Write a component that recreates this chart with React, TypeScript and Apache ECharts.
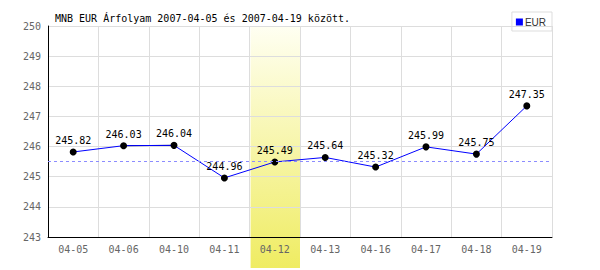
import React, { useEffect, useRef } from "react";
import * as echarts from "echarts";

const categories = ["04-05", "04-06", "04-10", "04-11", "04-12", "04-13", "04-16", "04-17", "04-18", "04-19"];
const eurValues = [245.82, 246.03, 246.04, 244.96, 245.49, 245.64, 245.32, 245.99, 245.75, 247.35];
const blackSegment = [null, 246.03, 246.04, null, null, null, null, null, null, null];
const referenceLevel = 245.5;
const highlightedCategory = "04-12";
const yMin = 243;
const yMax = 250;

const mono = "DejaVu Sans Mono";

export default function App() {
  const ref = useRef<HTMLDivElement>(null);
  useEffect(() => {
    if (!ref.current) return;
    const chart = echarts.init(ref.current, null, { renderer: "svg" });
    const option: any = {
      animation: false,
      backgroundColor: "#fff",
      title: {
        text: "MNB EUR Árfolyam 2007-04-05 és 2007-04-19 között.",
        left: 50,
        top: 8,
        textStyle: { fontFamily: mono, fontSize: 10, fontWeight: "normal", color: "#000" },
      },
      legend: {
        right: 48,
        top: 12,
        orient: "vertical",
        data: [{ name: "EUR", icon: "rect" }],
        itemWidth: 7,
        itemHeight: 7,
        itemGap: 3,
        padding: [5, 6, 4, 4],
        borderColor: "#ddd",
        borderWidth: 1,
        textStyle: { fontFamily: "Liberation Sans", fontSize: 10, color: "#333", padding: [0, 0, 0, -3] },
      },
      grid: { left: 48, right: 48, top: 26, bottom: 33, containLabel: false },
      xAxis: {
        type: "category",
        data: categories,
        boundaryGap: true,
        axisLine: { lineStyle: { color: "#000", width: 1 } },
        axisTick: { show: false },
        axisLabel: { fontFamily: mono, fontSize: 10, color: "#666", margin: 7 },
        splitLine: { show: true, lineStyle: { color: "#ddd", width: 1 } },
      },
      yAxis: {
        type: "value",
        min: yMin,
        max: yMax,
        interval: 1,
        axisLine: { show: true, lineStyle: { color: "#000", width: 1 } },
        axisTick: { show: false },
        axisLabel: { fontFamily: mono, fontSize: 10, color: "#666", margin: 7 },
        splitLine: { show: true, lineStyle: { color: "#ddd", width: 1 } },
      },
      series: [
        {
          name: "EUR",
          type: "line",
          data: eurValues,
          z: 3,
          symbol: "circle",
          symbolSize: 7,
          itemStyle: { color: "#0000ff", borderWidth: 0 },
          lineStyle: { color: "#0000ff", width: 1 },
          label: {
            show: true,
            position: "top",
            distance: 3,
            fontFamily: mono,
            fontSize: 10,
            color: "#000",
          },
          markLine: {
            silent: true,
            symbol: "none",
            label: { show: false },
            lineStyle: { color: "#8c8cff", type: [3, 3], width: 1 },
            data: [{ yAxis: referenceLevel }],
          },
        },
        {
          name: "segment",
          type: "line",
          data: blackSegment,
          z: 2,
          showSymbol: false,
          lineStyle: { color: "#000", width: 1 },
          connectNulls: false,
        },
      ],
    };
    chart.setOption(option);
    // symbols black, legend blue: apply symbol colour via data items
    chart.setOption({
      series: [
        {
          name: "EUR",
          data: eurValues.map((v) => ({ value: v, itemStyle: { color: "#000" } })),
        },
      ],
    });
    const idx = categories.indexOf(highlightedCategory);
    const p0 = chart.convertToPixel({ xAxisIndex: 0, yAxisIndex: 0 }, [idx, yMax]) as number[];
    const pL = chart.convertToPixel({ xAxisIndex: 0, yAxisIndex: 0 }, [idx - 1, yMax]) as number[];
    const pR = chart.convertToPixel({ xAxisIndex: 0, yAxisIndex: 0 }, [idx + 1, yMax]) as number[];
    const left = (p0[0] + pL[0]) / 2 + 1;
    const right = (p0[0] + pR[0]) / 2;
    const top = p0[1];
    const bottom = 268;
    chart.setOption({
      graphic: [
        {
          type: "rect",
          z: -10,
          silent: true,
          shape: { x: left, y: top, width: right - left, height: bottom - top },
          style: {
            fill: new echarts.graphic.LinearGradient(0, 0, 0, 1, [
              { offset: 0, color: "#fffff2" },
              { offset: 1, color: "#efec62" },
            ]),
          },
        },
      ],
    });
    return () => chart.dispose();
  }, []);
  return <div ref={ref} style={{ position: "fixed", left: 0, top: 0, width: 600, height: 270 }} />;
}
